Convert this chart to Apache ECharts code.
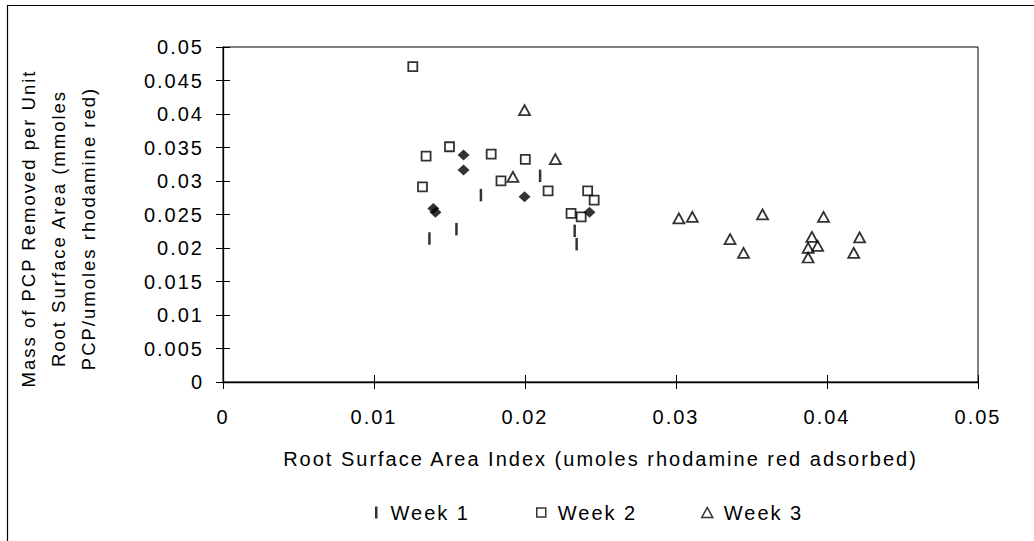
<!DOCTYPE html>
<html>
<head>
<meta charset="utf-8">
<script src="https://cdn.jsdelivr.net/npm/echarts@6/dist/echarts.min.js"></script>
<style>
html,body{margin:0;padding:0;background:#fff;}
#chart{width:1034px;height:541px;}
#chart svg text{letter-spacing:2px;}
</style>
</head>
<body>
<div id="chart"></div>
<script>
// ---- data ----
const xTickLabels = ['0', '0.01', '0.02', '0.03', '0.04', '0.05'];
const yTickLabels = ['0', '0.005', '0.01', '0.015', '0.02', '0.025', '0.03', '0.035', '0.04', '0.045', '0.05'];

const week1X = [0.01367, 0.01546, 0.01708, 0.02100, 0.02329, 0.02342];
const week1Y = [0.02142, 0.02281, 0.02789, 0.03077, 0.02256, 0.02057];

const week2X = [0.01257, 0.01345, 0.01321, 0.01500, 0.01776, 0.01841, 0.02002, 0.02153, 0.02305, 0.02372, 0.02415, 0.02458];
const week2Y = [0.04706, 0.03372, 0.02913, 0.03511, 0.03402, 0.03003, 0.03322, 0.02853, 0.02516, 0.02465, 0.02853, 0.02714];

const week3X = [0.01997, 0.02201, 0.01920, 0.03019, 0.03108, 0.03573, 0.03977, 0.03358, 0.03447, 0.03900, 0.03938, 0.03875, 0.03875, 0.04216, 0.04177];
const week3Y = [0.04059, 0.03327, 0.03062, 0.02441, 0.02465, 0.02501, 0.02465, 0.02132, 0.01927, 0.02166, 0.02032, 0.02002, 0.01858, 0.02157, 0.01927];

const otherX = [0.01593, 0.01593, 0.01393, 0.01407, 0.01997, 0.02427];
const otherY = [0.03387, 0.03163, 0.02590, 0.02535, 0.02764, 0.02535];

const legendNames = ['Week 1', 'Week 2', 'Week 3'];
const xTitle = 'Root Surface Area Index (umoles rhodamine red adsorbed)';
const yTitle = 'Mass of PCP Removed per Unit\nRoot Surface Area (mmoles\nPCP/umoles rhodamine red)';

// ---- chart ----
const FONT = '"Liberation Sans", Arial, Helvetica, sans-serif';
const pairs = (xs, ys) => xs.map((x, i) => [x, ys[i]]);
const hollow = {color: 'rgba(0,0,0,0)', borderColor: '#000', borderWidth: 1.8};

const chart = echarts.init(document.getElementById('chart'), null, {renderer: 'svg', width: 1034, height: 541});

const baseAxisText = {fontSize: 20, color: '#000', fontFamily: FONT};

const option = {
  animation: false,
  backgroundColor: '#fff',
  graphic: [{
    type: 'rect', silent: true, z: -10,
    shape: {x: 7.5, y: 5.5, width: 1100, height: 600},
    style: {fill: 'none', stroke: '#000', lineWidth: 1.2}
  }],
  grid: {left: 223, top: 47, right: 56, bottom: 159, show: true, borderColor: '#000', borderWidth: 1},
  xAxis: [{
    type: 'value', min: 0, max: 0.05, interval: 0.01,
    axisLine: {onZero: false, lineStyle: {color: '#000', width: 1.3}},
    axisTick: {show: true, length: 7, lineStyle: {color: '#000'}},
    splitLine: {show: false},
    axisLabel: Object.assign({margin: 25, formatter: v => xTickLabels[Math.round(v / 0.01)]}, baseAxisText),
    name: xTitle, nameLocation: 'middle', nameGap: 67,
    nameTextStyle: baseAxisText
  }, {
    type: 'value', min: 0, max: 0.05, interval: 0.01, position: 'bottom',
    axisLine: {show: false},
    axisTick: {show: true, inside: true, length: 7, lineStyle: {color: '#000'}},
    axisLabel: {show: false}, splitLine: {show: false}
  }],
  yAxis: [{
    type: 'value', min: 0, max: 0.05, interval: 0.005,
    axisLine: {onZero: false, lineStyle: {color: '#000', width: 1.3}},
    axisTick: {show: true, length: 7, lineStyle: {color: '#000'}},
    splitLine: {show: false},
    axisLabel: Object.assign({margin: 19, formatter: v => yTickLabels[Math.round(v / 0.005)]}, baseAxisText),
    name: yTitle, nameLocation: 'middle', nameRotate: 90, nameGap: 120,
    nameTextStyle: {fontSize: 18.5, lineHeight: 30, color: '#000', fontFamily: FONT, align: 'center', padding: [0, 28, 0, 0]}
  }, {
    type: 'value', min: 0, max: 0.05, interval: 0.005, position: 'left',
    axisLine: {show: false},
    axisTick: {show: true, inside: true, length: 7, lineStyle: {color: '#000'}},
    axisLabel: {show: false}, splitLine: {show: false}
  }],
  legend: [{
    data: [{name: legendNames[0], icon: 'rect', itemStyle: {color: '#000', borderWidth: 0}}],
    left: 375, top: 502.5, padding: 0, itemWidth: 2.5, itemHeight: 12, selectedMode: false,
    textStyle: {fontSize: 20, color: '#000', fontFamily: FONT, padding: [0, 0, 7, 8]}
  }, {
    data: [{name: legendNames[1], icon: 'rect', itemStyle: {color: 'rgba(0,0,0,0)', borderColor: '#000', borderWidth: 1.5}}],
    left: 536, top: 502.5, padding: 0, itemWidth: 9, itemHeight: 9, selectedMode: false,
    textStyle: {fontSize: 20, color: '#000', fontFamily: FONT, padding: [0, 0, 7, 7]}
  }, {
    data: [{name: legendNames[2], icon: 'triangle', itemStyle: {color: 'rgba(0,0,0,0)', borderColor: '#000', borderWidth: 1.5}}],
    left: 701, top: 502.5, padding: 0, itemWidth: 11, itemHeight: 10, selectedMode: false,
    textStyle: {fontSize: 20, color: '#000', fontFamily: FONT, padding: [0, 0, 7, 6]}
  }],
  series: [{
    name: legendNames[0], type: 'scatter', symbol: 'rect', symbolSize: [2.5, 12.5],
    itemStyle: {color: '#000'}, data: pairs(week1X, week1Y)
  }, {
    name: legendNames[1], type: 'scatter', symbol: 'rect', symbolSize: 9,
    itemStyle: hollow, data: pairs(week2X, week2Y)
  }, {
    name: legendNames[2], type: 'scatter', symbol: 'triangle', symbolSize: [11, 10],
    itemStyle: hollow, data: pairs(week3X, week3Y)
  }, {
    name: 'Other', type: 'scatter', symbol: 'diamond', symbolSize: [12, 11],
    itemStyle: {color: '#000'}, data: pairs(otherX, otherY)
  }]
};
chart.setOption(option);
</script>
</body>
</html>
